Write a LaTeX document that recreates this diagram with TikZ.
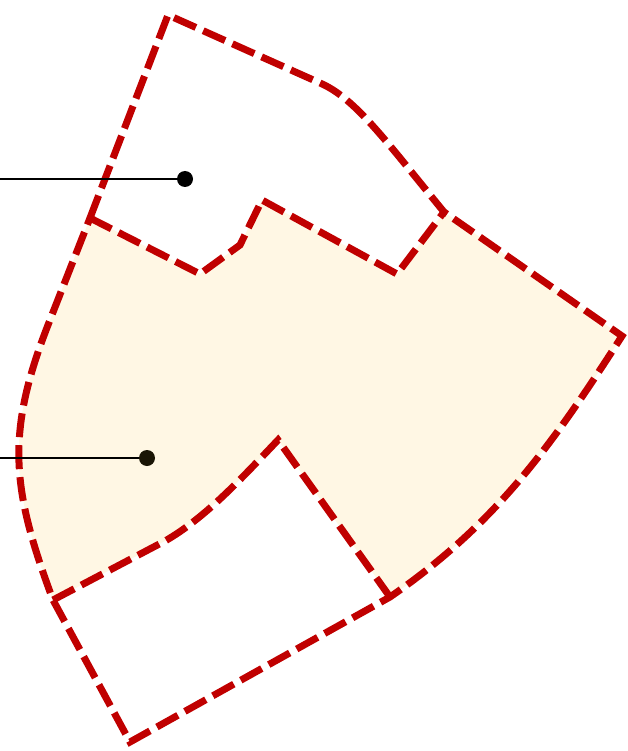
\documentclass[tikz,border=0pt]{standalone}
\usetikzlibrary{positioning}
\definecolor{rojo}{HTML}{C00000}
\definecolor{crema}{HTML}{FFF7E4}
\definecolor{casinegro}{HTML}{1A1505}

\begin{document}
\begin{tikzpicture}[
        x=1pt, y=-1pt,
        borde/.style={draw=rojo, line width=7pt, dash pattern=on 24pt off 8pt, line join=miter},
        zona/.style={fill=crema},
        punto/.style={circle, fill=#1, inner sep=0pt, minimum size=16pt},
        guia/.style={line width=2pt}
    ]
    \useasboundingbox (0,0) rectangle (627,751);

    % esquinas
    \coordinate (cima) at (168,15);
    \coordinate (codo-sup) at (320,83);
    \coordinate (derecha-sup) at (444,212);
    \coordinate (punta-der) at (622,336);
    \coordinate (pie-der) at (390,597);
    \coordinate (pie) at (130,742);
    \coordinate (pie-izq) at (53,600);
    \coordinate (codo-izq) at (48,325);
    \coordinate (hombro) at (90,218);
    \coordinate (muesca-a) at (200,274);
    \coordinate (muesca-b) at (240,245);
    \coordinate (muesca-c) at (262,200);
    \coordinate (muesca-d) at (397,274);
    \coordinate (entrante) at (278,440);
    \coordinate (codo-inf) at (165,541);

    % zona rellena
    \fill[zona] (hombro) -- (muesca-a) -- (muesca-b) -- (muesca-c) -- (muesca-d) -- (derecha-sup)
        -- (punta-der) .. controls (552,445) and (497,523) .. (pie-der)
        -- (entrante) .. controls (240,480) and (205,518) .. (codo-inf)
        -- (pie-izq) .. controls (12,490) and (5,435) .. (codo-izq) -- cycle;

    % contorno exterior
    \draw[borde] (hombro) -- (cima) -- (codo-sup) .. controls (355,98) and (385,140) .. (derecha-sup)
        -- (punta-der) .. controls (552,445) and (497,523) .. (pie-der)
        -- (pie) -- (pie-izq) .. controls (12,490) and (5,435) .. (codo-izq) -- cycle;
    % fronteras interiores
    \draw[borde] (hombro) -- (muesca-a) -- (muesca-b) -- (muesca-c) -- (muesca-d) -- (derecha-sup);
    \draw[borde] (pie-izq) -- (codo-inf) .. controls (205,518) and (240,480) .. (entrante) -- (pie-der);

    % marcas
    \node[punto=black] (punto-arriba) at (185,179) {};
    \node[punto=casinegro] (punto-abajo) at (147,458) {};
    \coordinate (borde-arriba) at (0,179);
    \coordinate (borde-abajo) at (0,458);
    \draw[guia] (borde-arriba) -- (punto-arriba);
    \draw[guia] (borde-abajo) -- (punto-abajo);
\end{tikzpicture}
\end{document}
